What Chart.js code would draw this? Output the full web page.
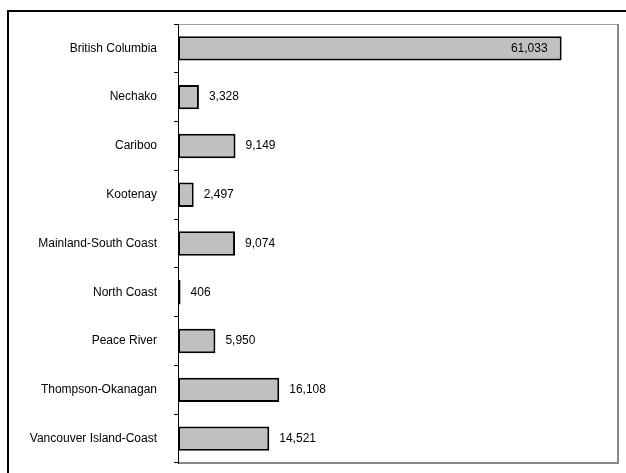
<!DOCTYPE html>
<html>
<head>
<meta charset="utf-8">
<script src="https://cdn.jsdelivr.net/npm/chart.js@4/dist/chart.umd.min.js"></script>
<style>
  html, body { margin: 0; padding: 0; background: #fff; }
  #wrap { width: 626px; height: 473px; position: relative; }
</style>
</head>
<body>
<div id="wrap"><canvas id="chart" width="626" height="473"></canvas></div>
<script>
// Chart data
const regions = ['British Columbia', 'Nechako', 'Cariboo', 'Kootenay', 'Mainland-South Coast',
    'North Coast', 'Peace River', 'Thompson-Okanagan', 'Vancouver Island-Coast'];
const counts = [61033, 3328, 9149, 2497, 9074, 406, 5950, 16108, 14521];
const xMax = 70000;

// Outer frame + plot border
const framePlugin = {
    id: 'frame',
    beforeDraw(chart) {
        const ctx = chart.ctx;
        ctx.save();
        ctx.strokeStyle = '#000';
        ctx.lineWidth = 2;
        ctx.beginPath();
        ctx.moveTo(8, 473);
        ctx.lineTo(8, 11);
        ctx.lineTo(626, 11);
        ctx.stroke();
        const a = chart.chartArea;
        ctx.strokeStyle = '#a0a0a0';
        ctx.lineWidth = 1;
        ctx.beginPath();
        ctx.moveTo(a.left, a.top + 0.5);
        ctx.lineTo(a.right, a.top + 0.5);
        ctx.stroke();
        ctx.strokeStyle = '#888';
        ctx.lineWidth = 2;
        ctx.beginPath();
        ctx.moveTo(a.right, a.top);
        ctx.lineTo(a.right, a.bottom);
        ctx.lineTo(a.left, a.bottom);
        ctx.stroke();
        ctx.restore();
    }
};

// Value labels next to (or inside) each bar
const valueLabels = {
    id: 'valueLabels',
    afterDatasetsDraw(chart) {
        const ctx = chart.ctx;
        const meta = chart.getDatasetMeta(0);
        ctx.save();
        ctx.font = '12px "Liberation Sans", Arial, sans-serif';
        ctx.fillStyle = '#000';
        ctx.textBaseline = 'middle';
        meta.data.forEach((bar, i) => {
            const txt = counts[i].toLocaleString('en-US');
            if (counts[i] > 40000) {
                ctx.textAlign = 'right';
                ctx.fillText(txt, bar.x - 14, bar.y);
            } else {
                ctx.textAlign = 'left';
                ctx.fillText(txt, bar.x + 10, bar.y);
            }
        });
        ctx.restore();
    }
};

new Chart(document.getElementById('chart'), {
    type: 'bar',
    data: {
        labels: regions,
        datasets: [{
            data: counts,
            backgroundColor: '#c0c0c0',
            borderColor: '#000',
            borderWidth: 2,
            borderSkipped: false,
            categoryPercentage: 1,
            barPercentage: 0.5
        }]
    },
    options: {
        indexAxis: 'y',
        responsive: false,
        animation: false,
        layout: { padding: { left: 0, top: 24, right: 8, bottom: 10 } },
        plugins: {
            legend: { display: false },
            tooltip: { enabled: false }
        },
        scales: {
            x: {
                display: false,
                min: 0,
                max: xMax
            },
            y: {
                afterFit(scale) {
                    scale.width = 178;
                    // don't let the label padding push the plot area around
                    scale.paddingTop = 0;
                    scale.paddingBottom = 0;
                },
                grid: {
                    offset: true,
                    drawOnChartArea: false,
                    drawTicks: true,
                    tickLength: 4,
                    color: '#000'
                },
                border: { color: '#000', width: 1 },
                ticks: {
                    padding: 17,
                    color: '#000',
                    font: { family: '"Liberation Sans", Arial, sans-serif', size: 12 }
                }
            }
        }
    },
    plugins: [framePlugin, valueLabels]
});
</script>
</body>
</html>
